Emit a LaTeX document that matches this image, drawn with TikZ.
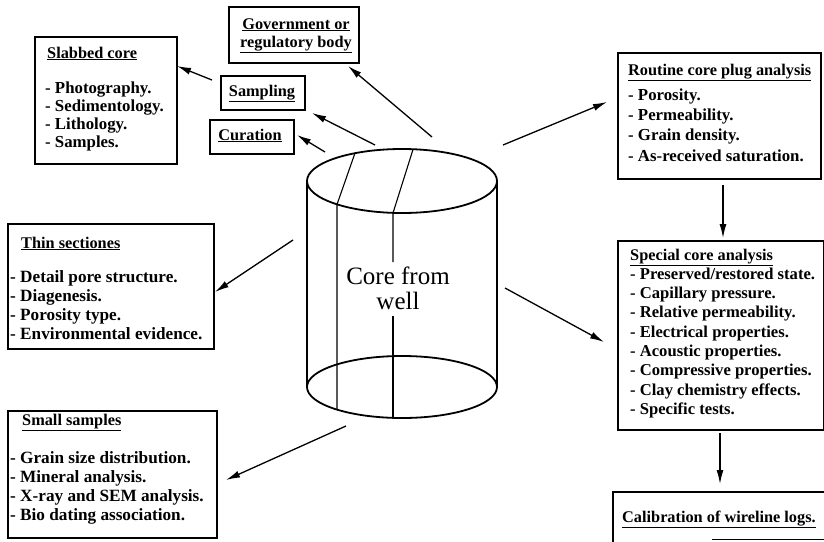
\documentclass[tikz,border=0pt]{standalone}
\usepackage{fontspec}
\setmainfont{Liberation Serif}
\usetikzlibrary{arrows.meta}
\newcommand\bodyf{\fontsize{16.3}{19}\selectfont\bfseries}
\tikzset{
  box/.style={draw, line width=1.6pt, anchor=north west, inner sep=0pt},
  head/.style={anchor=base west, inner sep=0pt, font=\bodyf},
  ctr/.style={anchor=base, inner sep=0pt, font=\bodyf},
  items/.style={anchor=north west, inner sep=0pt, align=left},
  conn/.style={line width=1.3pt, -{Latex[length=14pt,width=7pt]}},
  cyl/.style={line width=1.8pt},
  cylin/.style={line width=1.1pt}
}
\begin{document}
\begin{tikzpicture}[x=1pt,y=-1pt]
\useasboundingbox (0,0) rectangle (824,541);
\fill[white] (0,0) rectangle (824,541);

% boxes
\node[box, minimum width=142pt, minimum height=127pt] (slab) at (34,36) {};
\node[box, minimum width=130pt, minimum height=56pt] (gov) at (228,6) {};
\node[box, minimum width=84pt, minimum height=34pt] (samp) at (220,75) {};
\node[box, minimum width=84pt, minimum height=34pt] (cur) at (209,119) {};
\node[box, minimum width=203pt, minimum height=126pt] (rout) at (617,52) {};
\node[box, minimum width=206pt, minimum height=189pt] (spec) at (617,240) {};
\node[box, minimum width=240pt, minimum height=80pt] (calib) at (612,491) {};
\node[box, minimum width=206pt, minimum height=125pt] (thin) at (7,223) {};
\node[box, minimum width=209pt, minimum height=127pt] (small) at (7,410) {};
\draw[line width=1.6pt] (712,539.5) -- (830,539.5);

% texts
\node[head] (slabh) at (47,58) {\underline{Slabbed core}};
\node[items, font={\fontsize{16.8}{18}\selectfont\bfseries}] (slabi) at (45,80.4)
  {\strut- Photography.\\- Sedimentology.\\- Lithology.\\- Samples.};
\node[ctr] (gov1) at (296,29) {\underline{Government or}};
\node[ctr] (gov2) at (296,47) {\underline{regulatory body}};
\node[ctr] (samph) at (262,96) {\underline{Sampling}};
\node[ctr] (curh) at (250,140) {\underline{Curation}};
\node[head] (routh) at (628,75) {\underline{Routine core plug analysis}};
\node[items, font={\fontsize{16.8}{20.3}\selectfont\bfseries}] (routi) at (628,85.8)
  {\strut- Porosity.\\- Permeability.\\- Grain density.\\- As-received saturation.};
\node[head] (spech) at (630,260) {\underline{Special core analysis}};
\node[items, font={\fontsize{16.6}{19.3}\selectfont\bfseries}] (speci) at (630,265.5)
  {\strut- Preserved/restored state.\\- Capillary pressure.\\- Relative permeability.\\- Electrical properties.\\- Acoustic properties.\\- Compressive properties.\\- Clay chemistry effects.\\- Specific tests.};
\node[head] (calibh) at (622,522) {\underline{Calibration of wireline logs.}};
\node[head] (thinh) at (21,248) {\underline{Thin sectiones}};
\node[items, font={\fontsize{17.2}{19}\selectfont\bfseries}] (thini) at (10,268.7)
  {\strut- Detail pore structure.\\- Diagenesis.\\- Porosity type.\\- Environmental evidence.};
\node[head] (smallh) at (22,425) {\underline{Small samples}};
\node[items, font={\fontsize{17.2}{19}\selectfont\bfseries}] (smalli) at (10,449.7)
  {\strut- Grain size distribution.\\- Mineral analysis.\\- X-ray and SEM analysis.\\- Bio dating association.};

% cylinder
\draw[cyl] (402,181) ellipse [x radius=95, y radius=32];
\draw[cyl] (402,387) ellipse [x radius=95, y radius=31];
\draw[cyl] (307,181) -- (307,387);
\draw[cyl] (497,181) -- (497,387);
\draw[cylin] (355,153) -- (337,204.5) -- (337,409.5);
\draw[cylin] (413,149.5) -- (393,213) -- (393,262);
\draw[cylin] (393,316) -- (393,418);
\node[anchor=base, inner sep=0pt, font=\fontsize{25}{25}\selectfont] (core) at (398,284) {Core from};
\node[anchor=base, inner sep=0pt, font=\fontsize{25}{25}\selectfont] (corew) at (398,309) {well};

% connector end points
\coordinate (s1) at (212,80);   \coordinate (e1) at (177,66);
\coordinate (s2) at (375,145);  \coordinate (e2) at (312,113);
\coordinate (s3) at (325,152);  \coordinate (e3) at (297,135);
\coordinate (s4) at (432,137);  \coordinate (e4) at (348,66);
\coordinate (s5) at (503,145);  \coordinate (e5) at (607,102);
\coordinate (s6) at (723,185);  \coordinate (e6) at (723,238);
\coordinate (s7) at (505,288);  \coordinate (e7) at (604,342);
\coordinate (s8) at (720,433);  \coordinate (e8) at (720,484);
\coordinate (s9) at (293,240);  \coordinate (e9) at (215,292);
\coordinate (s10) at (346,426); \coordinate (e10) at (226,480);

\draw[conn] (s1) -- (e1);
\draw[conn] (s2) -- (e2);
\draw[conn] (s3) -- (e3);
\draw[conn] (s4) -- (e4);
\draw[conn] (s5) -- (e5);
\draw[conn] (s6) -- (e6);
\draw[conn] (s7) -- (e7);
\draw[conn] (s8) -- (e8);
\draw[conn] (s9) -- (e9);
\draw[conn] (s10) -- (e10);
\end{tikzpicture}
\end{document}
